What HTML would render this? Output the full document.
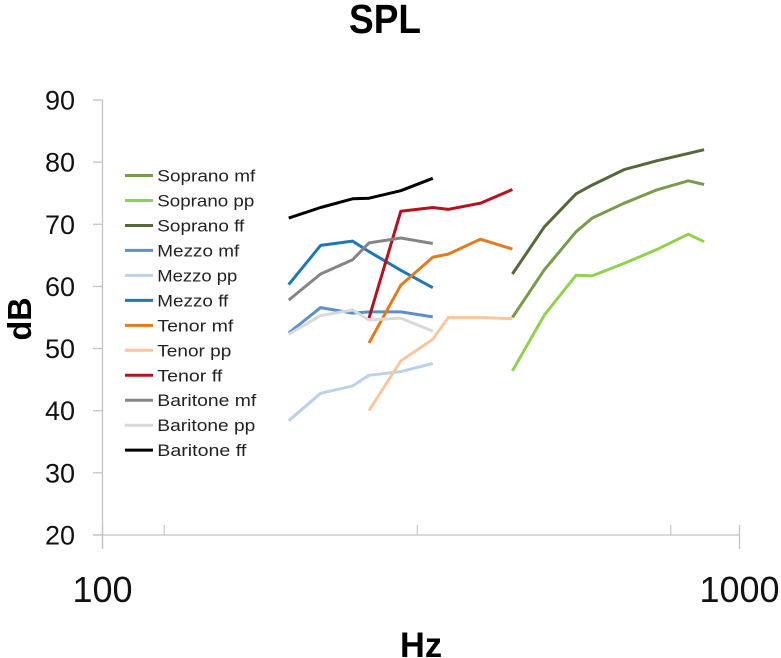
<!DOCTYPE html>
<html lang="en">
<head>
<meta charset="utf-8">
<title>SPL</title>
<style>
html,body{margin:0;padding:0;background:#fff;width:781px;height:658px;overflow:hidden}
svg{display:block;font-family:"Liberation Sans",sans-serif}
</style>
</head>
<body>
<svg id="chart" width="781" height="658" viewBox="0 0 781 658" xmlns="http://www.w3.org/2000/svg">
  <text x="385" y="33" text-anchor="middle" font-size="41" font-weight="700" fill="#000" textLength="72" lengthAdjust="spacingAndGlyphs">SPL</text>
  <text x="421" y="657" text-anchor="middle" font-size="35" font-weight="700" fill="#000" textLength="42" lengthAdjust="spacingAndGlyphs">Hz</text>
  <text transform="translate(31 319) rotate(-90)" text-anchor="middle" font-size="33" font-weight="700" fill="#000" textLength="43" lengthAdjust="spacingAndGlyphs">dB</text>
  <g id="axes"></g>
  <g id="series"></g>
  <g id="legend"></g>
</svg>
<script>
const yTicks = [20, 30, 40, 50, 60, 70, 80, 90];
const xMajorTicks = [100, 1000];
const xMinorTicks = [125, 312, 780];

const lowFreqs = [196, 220, 247, 262, 294, 330];
const tenorFreqs = [262, 294, 330, 349, 392, 440];
const sopranoFreqs = [440, 494, 554, 587, 659, 740, 831, 880];

const sopranoMf = [55.0, 62.7, 68.8, 71.0, 73.4, 75.5, 77.0, 76.4];
const sopranoPp = [46.4, 55.4, 61.8, 61.7, 63.7, 65.9, 68.4, 67.2];
const sopranoFf = [62.0, 69.6, 74.9, 76.3, 78.8, 80.2, 81.4, 82.0];
const mezzoMf = [52.5, 56.6, 55.7, 55.9, 55.9, 55.1];
const mezzoPp = [38.4, 42.8, 44.0, 45.7, 46.3, 47.6];
const mezzoFf = [60.3, 66.6, 67.3, 65.6, 62.6, 59.8];
const tenorMf = [50.9, 60.2, 64.7, 65.2, 67.6, 66.0];
const tenorPp = [40.0, 48.0, 51.5, 55.0, 55.0, 54.8];
const tenorFf = [54.9, 72.1, 72.7, 72.4, 73.4, 75.6];
const baritoneMf = [57.8, 62.0, 64.3, 67.0, 67.8, 66.9];
const baritonePp = [52.3, 55.3, 56.2, 54.6, 54.9, 52.8];
const baritoneFf = [71.0, 72.7, 74.1, 74.2, 75.4, 77.4];

const seriesNames = ["Soprano mf", "Soprano pp", "Soprano ff", "Mezzo mf", "Mezzo pp", "Mezzo ff", "Tenor mf", "Tenor pp", "Tenor ff", "Baritone mf", "Baritone pp", "Baritone ff"];
const seriesValues = [sopranoMf, sopranoPp, sopranoFf, mezzoMf, mezzoPp, mezzoFf, tenorMf, tenorPp, tenorFf, baritoneMf, baritonePp, baritoneFf];
const seriesFreqs = [sopranoFreqs, sopranoFreqs, sopranoFreqs, lowFreqs, lowFreqs, lowFreqs, tenorFreqs, tenorFreqs, tenorFreqs, lowFreqs, lowFreqs, lowFreqs];
const seriesColors = ["#7a9a4c", "#92d050", "#56683a", "#5b90c8", "#bdd0e9", "#1f77b4", "#e07b20", "#f6c7a0", "#b5121f", "#858585", "#d9d9d9", "#000000"];

const NS = "http://www.w3.org/2000/svg";
const plotLeft = 102.5, plotRight = 739.5, plotTop = 100, plotBottom = 535;

function xScale(f) {
  return plotLeft + (Math.log10(f) - 2) * (plotRight - plotLeft);
}
function yScale(v) {
  return plotBottom - (v - 20) / 70 * (plotBottom - plotTop);
}
function make(tag, parent, attrs) {
  const el = document.createElementNS(NS, tag);
  for (const k in attrs) el.setAttribute(k, attrs[k]);
  parent.appendChild(el);
  return el;
}

const axes = document.getElementById("axes");
const axisColor = "#c4c4c4";

const yAxisLine = make("line", axes, {x1: plotLeft, x2: plotLeft, y1: plotTop, y2: 549, stroke: axisColor, "stroke-width": 1.3});



const xAxisLine = make("line", axes, {x1: 93, x2: plotRight, y1: plotBottom, y2: plotBottom, stroke: axisColor, "stroke-width": 1.3});



yTicks.forEach(function (v) {
  const y = yScale(v);
  const tick = make("line", axes, {x1: 93, x2: plotLeft, y1: y, y2: y, stroke: axisColor, "stroke-width": 1.3});
  
  
  const label = make("text", axes, {x: 75, y: y + 9.5, "text-anchor": "end", "font-size": 27, fill: "#111"});
  
  
  label.textContent = v;
});

xMajorTicks.forEach(function (f) {
  const x = xScale(f);
  const tick = make("line", axes, {x1: x, x2: x, y1: 525, y2: 549, stroke: axisColor, "stroke-width": 1.3});
  
  
  const label = make("text", axes, {x: x, y: 602, "text-anchor": "middle", "font-size": 36, fill: "#111"});
  
  
  label.textContent = f;
});

xMinorTicks.forEach(function (f) {
  const x = xScale(f);
  const tick = make("line", axes, {x1: x, x2: x, y1: 525, y2: plotBottom, stroke: axisColor, "stroke-width": 1.1});
  
  
});

const seriesGroup = document.getElementById("series");
seriesNames.forEach(function (name, i) {
  const pts = seriesValues[i].map(function (v, j) {
    return xScale(seriesFreqs[i][j]).toFixed(1) + "," + yScale(v).toFixed(1);
  }).join(" ");
  const line = make("polyline", seriesGroup, {points: pts, fill: "none", stroke: seriesColors[i], "stroke-width": 3, "stroke-linejoin": "round"});
  
  
  line.setAttribute('aria-label', name);
});

const legend = document.getElementById("legend");
const legendRowY = 175.5, legendRowStep = 24.97;
const legendWidths = [98, 97, 87, 82, 80, 71, 76, 74, 65, 99, 98, 89];
seriesNames.forEach(function (name, i) {
  const y = legendRowY + i * legendRowStep;
  const swatch = make("line", legend, {x1: 125, x2: 153, y1: y, y2: y, stroke: seriesColors[i], "stroke-width": 3});
  
  
  const label = make("text", legend, {x: 157.3, y: y + 6, "font-size": 17, fill: "#222", textLength: legendWidths[i], lengthAdjust: "spacingAndGlyphs"});
  
  
  label.textContent = name;
});
</script>
</body>
</html>
